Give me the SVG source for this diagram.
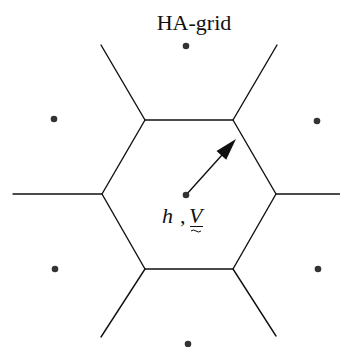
<svg xmlns="http://www.w3.org/2000/svg" width="340" height="347" viewBox="0 0 340 347">
<style>
.edge{stroke:#111;stroke-width:1.4;fill:none;stroke-linecap:round;stroke-linejoin:round}
.dot{fill:#333}
.lbl{font-family:"Liberation Serif","Times New Roman",serif;fill:#111}
</style>
<rect width="340" height="347" fill="#fff"/>
<g id="connectors">
<polygon class="edge" points="145,120 233,120 276,194 233,269 145,269 102,194"/>
<line class="edge" x1="145" y1="120" x2="101" y2="45"/>
<line class="edge" x1="233" y1="120" x2="277" y2="45"/>
<line class="edge" x1="102" y1="194" x2="13" y2="194"/>
<line class="edge" x1="276" y1="194" x2="340" y2="194"/>
<line class="edge" x1="145" y1="269" x2="101" y2="337"/>
<line class="edge" x1="233" y1="269" x2="276" y2="336"/>
<line class="edge" x1="186" y1="195" x2="222" y2="155"/>
<polygon points="236,139 216.5,151.1 226.2,159.8" fill="#111"/>
</g>
<g id="title"><text class="lbl" x="194" y="30" font-size="22" text-anchor="middle">HA-grid</text></g>
<g id="node-top"><circle class="dot" cx="186" cy="46" r="3.3"/></g>
<g id="node-ul"><circle class="dot" cx="54" cy="119" r="3.3"/></g>
<g id="node-ur"><circle class="dot" cx="317" cy="121" r="3.3"/></g>
<g id="node-ll"><circle class="dot" cx="55" cy="269" r="3.3"/></g>
<g id="node-lr"><circle class="dot" cx="318" cy="269" r="3.3"/></g>
<g id="node-bottom"><circle class="dot" cx="188" cy="344" r="3.3"/></g>
<g id="node-center">
<circle class="dot" cx="186" cy="195" r="3.3"/>
<text class="lbl" x="162" y="223" font-size="22" font-style="italic">h</text>
<text class="lbl" x="180" y="223" font-size="22">,</text>
<text class="lbl" x="189" y="223" font-size="22" font-style="italic">V</text>
<line x1="190" y1="226.5" x2="203" y2="226.5" stroke="#111" stroke-width="1"/>
<path d="M191,231 q2.5,-2 5,0 t5,0" stroke="#111" stroke-width="1" fill="none"/>
</g>
</svg>
